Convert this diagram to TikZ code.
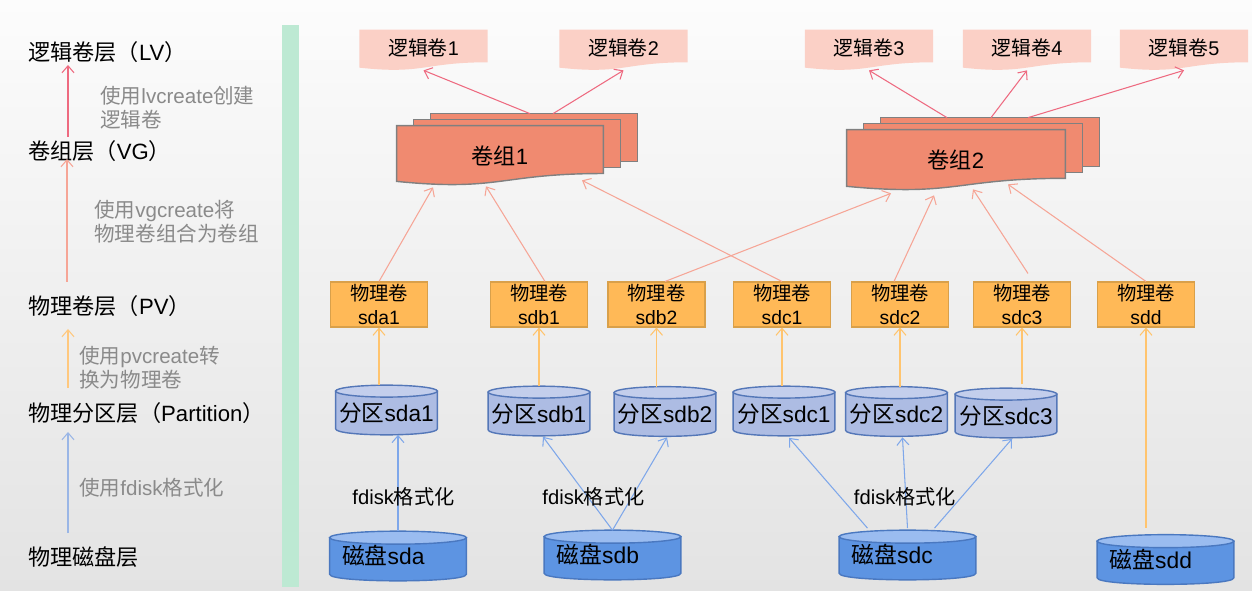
\documentclass[tikz,border=0pt]{standalone}
\usepackage{fontspec}
\setmainfont{Liberation Sans}
\newfontfamily\cjk{Noto Sans CJK SC}
\newcommand\zh[1]{{\cjk #1}}
\usetikzlibrary{arrows.meta,calc}
\pgfdeclarelayer{bg}
\pgfsetlayers{bg,main}

\definecolor{bgtop}{HTML}{FCFCFC}
\definecolor{bgbot}{HTML}{E3E3E3}
\definecolor{barfill}{HTML}{BDE9D3}
\definecolor{hintgray}{HTML}{8A8A8A}
\definecolor{lvfill}{HTML}{FBD0C6}
\definecolor{vgfill}{HTML}{F08A70}
\definecolor{vgedge}{HTML}{808080}
\definecolor{pvfill}{HTML}{FFB957}
\definecolor{pvedge}{HTML}{D9A04A}
\definecolor{pafill}{HTML}{ADBCE3}
\definecolor{patop}{HTML}{C3CEEC}
\definecolor{paedge}{HTML}{5477B8}
\definecolor{dkfill}{HTML}{5D94E2}
\definecolor{dktop}{HTML}{9ABCF0}
\definecolor{dkedge}{HTML}{4A78C0}
\definecolor{lvline}{HTML}{EE6A80}
\definecolor{vgline}{HTML}{F6A596}
\definecolor{pvline}{HTML}{FFC46E}
\definecolor{dkline}{HTML}{7EA7EA}
\definecolor{sideblue}{HTML}{9AB6E6}
\definecolor{sideorange}{HTML}{FFC87E}

% document shape: rectangle with a wavy lower edge, filling the node's box
\newcommand\docshape[2]{%
  \path[#2] let \p1=(#1.north west), \p2=(#1.south east) in
    (\x1,\y1) -- (\x2,\y1) -- (\x2,{\y1+0.802*(\y2-\y1)})
    .. controls ({(\x1+\x2)/2},{\y1+0.802*(\y2-\y1)}) and ({(\x1+\x2)/2},{\y1+1.107*(\y2-\y1)})
    .. (\x1,{\y1+0.934*(\y2-\y1)}) -- cycle;}

% stacked documents: two plain sheets behind the wavy front sheet
\newcommand\multidoc[2]{%
  \foreach \k in {2,1}{%
    \path[#2] let \p1=(#1.north west), \p2=(#1.south east) in
      ({\x1+\k*0.34cm},{\y1+\k*0.12cm}) rectangle
      ({\x2+\k*0.34cm},{\y1+0.802*(\y2-\y1)+\k*0.12cm});}
  \docshape{#1}{#2}}

% cylinder filling the node's box: body, then lighter top ellipse
\newcommand\cylshape[4]{%
  \path[#2] let \p1=(#1.north west), \p2=(#1.south east) in
    (\x1,{\y1-#4}) -- (\x1,{\y2+#4})
    .. controls (\x1,{\y2-#4/3}) and (\x2,{\y2-#4/3}) .. (\x2,{\y2+#4})
    -- (\x2,{\y1-#4}) -- cycle;
  \path[#3] let \p1=(#1.north west), \p2=(#1.south east) in
    ({(\x1+\x2)/2},{\y1-#4}) ellipse [x radius={(\x2-\x1)/2}, y radius=#4];}

\tikzset{
  every node/.style={inner sep=0pt},
  layer/.style={anchor=west, font=\fontsize{12.6}{15}\selectfont},
  hint/.style={anchor=west, align=left, text=hintgray, font=\fontsize{11.7}{13.6}\selectfont},
  lvbox/.style={minimum width=2.55cm, minimum height=0.8cm, text height=9pt, text depth=2.5pt,
    font=\fontsize{11.3}{13}\selectfont},
  vgbox/.style={font=\fontsize{12.6}{15}\selectfont},
  pvbox/.style={draw=pvedge, fill=pvfill, line width=0.6pt, minimum width=1.94cm,
    minimum height=0.9cm, align=center, font=\fontsize{11}{13.6}\selectfont},
  partbox/.style={minimum width=2.02cm, minimum height=0.98cm, text height=14.5pt, text depth=1.5pt,
    font=\fontsize{12.9}{15}\selectfont},
  diskbox/.style={text width=2.24cm, inner xsep=0.24cm, minimum height=0.98cm,
    align=left, font=\fontsize{13}{15}\selectfont},
  fmt/.style={font=\fontsize{11.5}{13}\selectfont},
  lvpaint/.style={fill=lvfill},
  vgpaint/.style={fill=vgfill, draw=vgedge, line width=0.8pt},
  pabody/.style={fill=pafill, draw=paedge, line width=0.8pt},
  patopf/.style={fill=patop, draw=paedge, line width=0.8pt},
  dkbody/.style={fill=dkfill, draw=dkedge, line width=0.8pt},
  dktopf/.style={fill=dktop, draw=dkedge, line width=0.8pt},
  tip/.style={-{Straight Barb[length=1.4mm,width=2.4mm]}, line width=0.6pt},
  lva/.style={tip, draw=lvline},
  vga/.style={tip, draw=vgline},
  pva/.style={tip, draw=pvline},
  dka/.style={tip, draw=dkline},
}

\begin{document}
\begin{tikzpicture}[x=0.02cm, y=-0.02cm]
\useasboundingbox (0,0) rectangle (1252,591);

% ---------- layer legend ----------
\node[layer] (lyLV) at (28,52)  {\zh{逻辑卷层（}LV\zh{）}};
\node[layer] (lyVG) at (28,151) {\zh{卷组层（}VG\zh{）}};
\node[layer] (lyPV) at (28,306) {\zh{物理卷层（}PV\zh{）}};
\node[layer] (lyPA) at (28,413) {\zh{物理分区层（}Partition\zh{）}};
\node[layer] (lyDK) at (28,557) {\zh{物理磁盘层}};

\node[hint] (hLV) at (100,108)   {\zh{使用}lvcreate\zh{创建}\\\zh{逻辑卷}};
\node[hint] (hVG) at (94,221.5)  {\zh{使用}vgcreate\zh{将}\\\zh{物理卷组合为卷组}};
\node[hint] (hPV) at (79,368)    {\zh{使用}pvcreate\zh{转}\\\zh{换为物理卷}};
\node[hint] (hPA) at (79,488)    {\zh{使用}fdisk\zh{格式化}};

\draw[tip, draw=lvline]     ($(lyVG.west)+(40,-14)$) -- ($(lyLV.west)+(40,13)$);
\draw[tip, draw=vgline]     ($(lyPV.west)+(39,-24)$) -- ($(lyVG.west)+(39,8)$);
\draw[tip, draw=sideorange] ($(lyPA.west)+(40,-25)$) -- ($(lyPV.west)+(40,23)$);
\draw[tip, draw=sideblue]   ($(lyDK.west)+(40,-24)$) -- ($(lyPA.west)+(40,19)$);

% ---------- logical volumes ----------
\node[lvbox] (lv1) at (423.5,50) {\zh{逻辑卷}1};
\node[lvbox] (lv2) at (623.5,50) {\zh{逻辑卷}2};
\node[lvbox] (lv3) at (869,50)   {\zh{逻辑卷}3};
\node[lvbox] (lv4) at (1027,50)  {\zh{逻辑卷}4};
\node[lvbox] (lv5) at (1184,50)  {\zh{逻辑卷}5};

% ---------- volume groups ----------
\node[vgbox, minimum width=4.12cm, minimum height=1.18cm] (vg1) at (500,155.5) {\zh{卷组}1};
\node[vgbox, minimum width=4.36cm, minimum height=1.2cm]  (vg2) at (956,160)   {\zh{卷组}2};

% ---------- physical volumes ----------
\node[pvbox] (pv1) at (379,304.5)    {\zh{物理卷}\\sda1};
\node[pvbox] (pv2) at (539,304.5)    {\zh{物理卷}\\sdb1};
\node[pvbox] (pv3) at (656.5,304.5)  {\zh{物理卷}\\sdb2};
\node[pvbox] (pv4) at (782,304.5)    {\zh{物理卷}\\sdc1};
\node[pvbox] (pv5) at (900,304.5)    {\zh{物理卷}\\sdc2};
\node[pvbox] (pv6) at (1022,304.5)   {\zh{物理卷}\\sdc3};
\node[pvbox] (pv7) at (1146,304.5)   {\zh{物理卷}\\sdd};

% ---------- partitions ----------
\node[partbox] (pa1) at (386.5,410)  {\zh{分区}sda1};
\node[partbox] (pa2) at (539,411)    {\zh{分区}sdb1};
\node[partbox] (pa3) at (665,411.5)  {\zh{分区}sdb2};
\node[partbox] (pa4) at (784,411)    {\zh{分区}sdc1};
\node[partbox] (pa5) at (896.5,411.5){\zh{分区}sdc2};
\node[partbox] (pa6) at (1006,413)   {\zh{分区}sdc3};

% ---------- disks ----------
\node[diskbox] (dk1) at (398,556)     {\zh{磁盘}sda};
\node[diskbox] (dk2) at (612.5,555)   {\zh{磁盘}sdb};
\node[diskbox] (dk3) at (907.5,555)   {\zh{磁盘}sdc};
\node[diskbox] (dk4) at (1165.5,559.5){\zh{磁盘}sdd};

% ---------- shapes behind the labels ----------
\begin{pgfonlayer}{bg}
  \shade[top color=bgtop, bottom color=bgbot] (0,0) rectangle (1252,591);
  \fill[barfill] (282,25) rectangle (299,587);
  \foreach \nd in {lv1,lv2,lv3,lv4,lv5}{\docshape{\nd}{lvpaint}}
  \multidoc{vg1}{vgpaint}
  \multidoc{vg2}{vgpaint}
  \foreach \nd in {pa1,pa2,pa3,pa4,pa5,pa6}{\cylshape{\nd}{pabody}{patopf}{3.4pt}}
  \foreach \nd in {dk1,dk2,dk3,dk4}{\cylshape{\nd}{dkbody}{dktopf}{3.7pt}}
\end{pgfonlayer}

% ---------- volume groups -> logical volumes ----------
\draw[lva] ($(vg1.north)+(30,-12)$) -- (lv1.south);
\draw[lva] ($(vg1.north)+(53,-12)$) -- (lv2.south);
\draw[lva] ($(vg2.north)+(-9,-12)$) -- (lv3.south);
\draw[lva] ($(vg2.north)+(35,-12)$) -- (lv4.south);
\draw[lva] ($(vg2.north)+(72,-12)$) -- (lv5.south);

% ---------- physical volumes -> volume groups ----------
\draw[vga] (pv1.north) -- ($(vg1.south)+(-67,2)$);
\draw[vga] ($(pv2.north)+(6,0)$) -- ($(vg1.south)+(-14,1)$);
\draw[vga] ($(pv3.north)+(8.5,0)$) -- ($(vg2.south)+(-65,3)$);
\draw[vga] (pv4.north) -- ($(vg1.south)+(82,-5)$);
\draw[vga] ($(pv5.north)+(-6,0)$) -- ($(vg2.south)+(-22,5)$);
\draw[vga] ($(pv6.north)+(6,-8)$) -- ($(vg2.south)+(17,-1)$);
\draw[vga] (pv7.north) -- ($(vg2.south)+(52,-6)$);

% ---------- partitions -> physical volumes ----------
\draw[pva] (pa1.north -| pv1.south) -- (pv1.south);
\draw[pva] (pa2.north -| pv2.south) -- (pv2.south);
\draw[pva] (pa3.north -| pv3.south) -- (pv3.south);
\draw[pva] (pa4.north -| pv4.south) -- (pv4.south);
\draw[pva] (pa5.north -| pv5.south) -- (pv5.south);
\draw[pva] ($(pv6.south |- pa6.north)+(0,-4)$) -- (pv6.south);
\draw[pva] ($(pv7.south |- dk4.north)+(0,-7)$) -- (pv7.south);

% ---------- disks -> partitions ----------
\draw[dka] (dk1.north) -- (dk1.north |- pa1.south);
\draw[dka] (dk2.north) -- ($(pa2.south)+(4,1)$);
\draw[dka] (dk2.north) -- ($(pa3.south)+(2,1)$);
\draw[dka] ($(dk3.north)+(-40,-2)$) -- ($(pa4.south)+(5,2)$);
\draw[dka] ($(dk3.north)+(0,-2)$) -- ($(pa5.south)+(6,1)$);
\draw[dka] ($(dk3.north)+(27,-2)$) -- ($(pa6.south)+(6,1)$);

\node[fmt] (fa) at (403.5,497) {fdisk\zh{格式化}};
\node[fmt] (fb) at (593.5,497) {fdisk\zh{格式化}};
\node[fmt] (fc) at (905,497)   {fdisk\zh{格式化}};
\end{tikzpicture}
\end{document}
